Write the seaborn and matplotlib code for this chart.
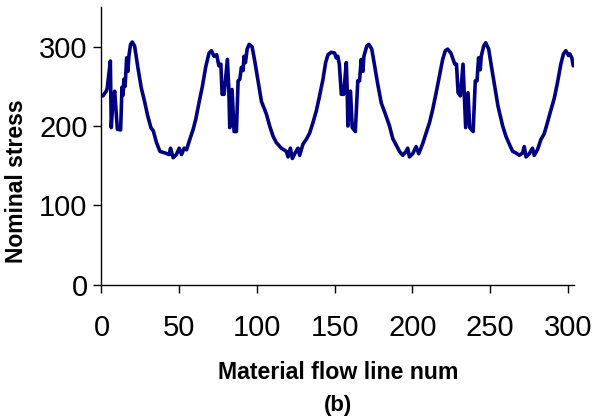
import matplotlib
matplotlib.use("Agg")
import matplotlib.pyplot as plt
import seaborn as sns
import pandas as pd

# Material flow line number (x) and nominal stress (y)
cycle1_x = [1, 1.6, 3.1, 3.7, 5.7, 6.3, 7.4, 8.5, 10.2, 12.3, 13.2, 13.9, 14.4, 15.2, 16.2, 17.0,
            17.6, 18.7, 19.8, 21.3, 23.4, 25.6, 27.6, 29.7, 31.8, 33.3, 35.4, 37.6, 40.8, 43.6,
            44.4, 46.1, 48.2, 50.0, 51.5, 53.2, 54.7, 56.8, 59.0, 60.7, 62.8, 64.9, 67.1, 69.2,
            70.7, 72.4, 74.1]
cycle1_y = [238, 240, 244, 248, 282, 198, 234, 244, 196, 195, 249, 239, 259, 250, 286, 269,
            288, 303, 306, 301, 274, 248, 232, 213, 198, 194, 179, 168, 166, 164,
            172, 160, 164, 172, 164, 172, 170, 183, 196, 209, 230, 250, 275, 292,
            295, 288, 290]

cycle2_x = [75.5, 76.8, 77.6, 78.9, 81.0, 81.9, 82.5, 84.0, 85.3, 86.8, 87.9, 89.0, 90.0, 91.1,
            91.7, 92.6, 93.7, 95.0, 96.9, 98.6, 100.7, 102.9, 106.1, 108.2, 110.4, 112.5,
            115.7, 118.9, 120.0, 121.5, 122.8, 124.3, 126.4, 127.5, 129.6, 131.7, 133.9, 136.0,
            138.2, 140.3, 142.5, 144.2, 145.7, 147.8, 150.0, 151.0, 152.0]
cycle2_y = [276, 278, 240, 240, 284, 248, 198, 246, 193, 193, 257, 259, 274, 270,
            288, 280, 297, 303, 300, 282, 257, 231, 215, 200, 187, 179,
            172, 168, 161, 172, 159, 165, 172, 163, 177, 183, 191, 204,
            219, 238, 259, 280, 290, 293, 292, 286, 288]

cycle3_x = [153.0, 154.3, 155.8, 157.5, 158.1, 158.5, 160.2, 161.3, 163.3, 164.9, 166.0, 167.1,
            168.2, 168.8, 170.7, 172.0, 173.9, 175.7, 177.8, 180.0, 183.0, 185.3, 187.4, 189.6,
            191.7, 193.8, 196.0, 197.0, 198.1, 200.2, 202.4, 204.1, 206.7, 208.8, 211.0, 213.1,
            215.3, 217.4, 219.5, 221.2, 222.7, 224.8, 226.2, 227.3, 228.4]
cycle3_y = [278, 240, 240, 280, 244, 200, 244, 198, 193, 257, 257, 284,
            269, 288, 301, 303, 297, 276, 252, 229, 213, 200, 184, 176,
            168, 163, 168, 172, 161, 165, 174, 165, 178, 191, 204, 221,
            242, 263, 284, 295, 297, 292, 284, 278, 278]

cycle4_x = [229.4, 230.9, 232.6, 233.3, 234.3, 235.8, 236.9, 239.1, 240.5, 241.6, 242.6, 243.7,
            244.3, 245.9, 247.2, 249.1, 250.8, 253.0, 255.1, 258.1, 260.2, 262.4, 264.5, 266.6,
            268.8, 270.9, 272.0, 273.1, 275.2, 277.3, 278.4, 280.5, 282.7, 284.8, 287.0, 289.1,
            291.3, 293.4, 295.5, 297.2, 298.7, 300.4, 301.3, 302.6, 303.5]
cycle4_y = [242, 238, 278, 244, 198, 242, 198, 193, 257, 257, 286, 271,
            288, 301, 305, 297, 276, 250, 225, 200, 187, 177, 168, 166,
            163, 166, 174, 161, 165, 172, 163, 170, 183, 190, 205, 220,
            235, 255, 278, 291, 295, 289, 291, 286, 276]

line_num = cycle1_x + cycle2_x + cycle3_x + cycle4_x
stress = cycle1_y + cycle2_y + cycle3_y + cycle4_y

x_ticks = [0, 50, 100, 150, 200, 250, 300]
y_ticks = [0, 100, 200, 300]

df = pd.DataFrame({"line": line_num, "stress": stress})

sns.set_theme(style="ticks")
plt.rcParams["font.family"] = ["Liberation Sans", "DejaVu Sans"]
plt.rcParams["text.color"] = "black"

fig = plt.figure(figsize=(5.97, 4.19), dpi=100)
ax = fig.add_axes([0.170, 0.321, 0.7915, 0.662])
sns.lineplot(data=df, x="line", y="stress", ax=ax, color="#000080",
             linewidth=2.6, sort=False, estimator=None)

ax.set_xlim(0, 304)
ax.set_ylim(0, 350)
ax.set_xticks(x_ticks)
ax.set_yticks(y_ticks)
ax.tick_params(axis="both", labelsize=21, length=6, width=1, color="black",
               labelcolor="black", direction="out")
ax.tick_params(axis="x", pad=15)
ax.tick_params(axis="y", pad=4)
for s in ["top", "right"]:
    ax.spines[s].set_visible(False)
for s in ["left", "bottom"]:
    ax.spines[s].set_color("black")
    ax.spines[s].set_linewidth(1)

ax.set_xlabel("")
ax.set_ylabel("")
fig.text(0.567, 0.110, "Material flow line num", fontsize=16.7, fontweight="bold",
         ha="center", va="center", color="black")
fig.text(0.027, 0.568, "Nominal stress", fontsize=16.5, fontweight="bold",
         ha="center", va="center", rotation=90, color="black")
fig.text(0.566, 0.033, "(b)", fontsize=16, fontweight="bold", ha="center", va="center",
         color="black")

fig.savefig("out.png", dpi=100)
